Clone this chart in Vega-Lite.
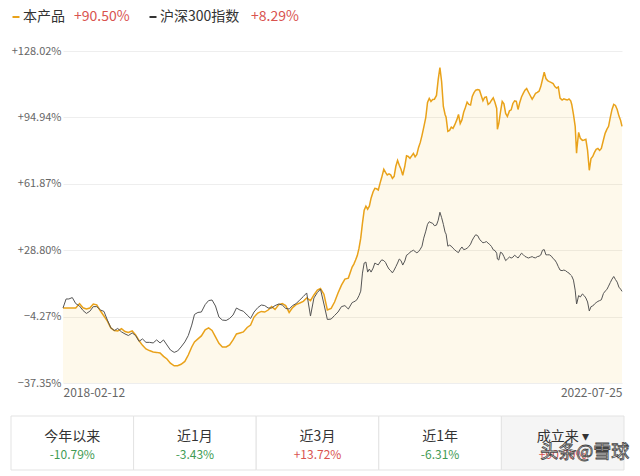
{
  "$schema": "https://vega.github.io/schema/vega-lite/v6.json",
  "padding": 0,
  "background": "#ffffff",
  "config": {"view": {"stroke": null}, "font": "Noto Sans CJK SC"},
  "datasets": {
    "legend": [
      {"name": "本产品", "ret": "+90.50%"},
      {"name": "沪深300指数", "ret": "+8.29%"}
    ],
    "tabs": [
      {"tab": "今年以来", "ret": "-10.79%"},
      {"tab": "近1月", "ret": "-3.43%"},
      {"tab": "近3月", "ret": "+13.72%"},
      {"tab": "近1年", "ret": "-6.31%"},
      {"tab": "成立来 ▾", "ret": "+90.50%"}
    ],
    "series": [
      {"date": "2018-02-12", "product": 0, "csi": 0},
      {"date": "2018-02-21", "product": 0, "csi": 4.5},
      {"date": "2018-03-01", "product": 0, "csi": 4.5},
      {"date": "2018-03-11", "product": 0, "csi": 5.2},
      {"date": "2018-03-21", "product": 0, "csi": 2.2},
      {"date": "2018-04-01", "product": 2.2, "csi": 1.0},
      {"date": "2018-04-11", "product": 0.1, "csi": -1.2},
      {"date": "2018-04-21", "product": -0.5, "csi": -2.7},
      {"date": "2018-05-01", "product": 0, "csi": -1.6},
      {"date": "2018-05-11", "product": 2.0, "csi": 0.7},
      {"date": "2018-05-21", "product": 1.6, "csi": 0.7},
      {"date": "2018-06-01", "product": -1.5, "csi": -1.0},
      {"date": "2018-06-11", "product": -4.0, "csi": -1.7},
      {"date": "2018-06-21", "product": -6.5, "csi": -6.0},
      {"date": "2018-07-01", "product": -9.9, "csi": -9.9},
      {"date": "2018-07-11", "product": -11.2, "csi": -11.2},
      {"date": "2018-07-21", "product": -11.4, "csi": -10.2},
      {"date": "2018-08-01", "product": -10.3, "csi": -11.9},
      {"date": "2018-08-11", "product": -11.7, "csi": -12.9},
      {"date": "2018-08-21", "product": -12.2, "csi": -13.7},
      {"date": "2018-09-01", "product": -11.4, "csi": -12.4},
      {"date": "2018-09-11", "product": -13.4, "csi": -13.7},
      {"date": "2018-09-21", "product": -16.3, "csi": -16.6},
      {"date": "2018-10-01", "product": -18.6, "csi": -15.4},
      {"date": "2018-10-11", "product": -20.4, "csi": -17.1},
      {"date": "2018-10-21", "product": -21.2, "csi": -17.1},
      {"date": "2018-11-01", "product": -21.9, "csi": -17.4},
      {"date": "2018-11-11", "product": -22.1, "csi": -15.9},
      {"date": "2018-11-21", "product": -22.4, "csi": -17.4},
      {"date": "2018-12-01", "product": -24.1, "csi": -15.9},
      {"date": "2018-12-11", "product": -25.4, "csi": -18.4},
      {"date": "2018-12-21", "product": -27.5, "csi": -20.9},
      {"date": "2019-01-01", "product": -28.8, "csi": -22.1},
      {"date": "2019-01-11", "product": -28.7, "csi": -21.4},
      {"date": "2019-01-21", "product": -28.0, "csi": -19.4},
      {"date": "2019-02-01", "product": -26.6, "csi": -16.9},
      {"date": "2019-02-11", "product": -23.4, "csi": -13.7},
      {"date": "2019-02-21", "product": -19.4, "csi": -8.5},
      {"date": "2019-03-01", "product": -16.9, "csi": -3.2},
      {"date": "2019-03-11", "product": -15.4, "csi": -2.2},
      {"date": "2019-03-21", "product": -13.9, "csi": -2.0},
      {"date": "2019-04-01", "product": -10.9, "csi": 1.7},
      {"date": "2019-04-11", "product": -9.9, "csi": 3.7},
      {"date": "2019-04-21", "product": -11.2, "csi": 4.0},
      {"date": "2019-05-01", "product": -14.4, "csi": 1.0},
      {"date": "2019-05-11", "product": -17.6, "csi": -4.5},
      {"date": "2019-05-21", "product": -19.4, "csi": -6.0},
      {"date": "2019-06-01", "product": -19.4, "csi": -6.2},
      {"date": "2019-06-11", "product": -18.4, "csi": -5.2},
      {"date": "2019-06-21", "product": -15.9, "csi": -3.5},
      {"date": "2019-07-01", "product": -12.9, "csi": 0},
      {"date": "2019-07-11", "product": -12.4, "csi": -1.0},
      {"date": "2019-07-21", "product": -11.9, "csi": -1.6},
      {"date": "2019-08-01", "product": -9.7, "csi": -3.5},
      {"date": "2019-08-11", "product": -8.5, "csi": -5.2},
      {"date": "2019-08-21", "product": -4.5, "csi": -2.0},
      {"date": "2019-09-01", "product": -2.5, "csi": 0.2},
      {"date": "2019-09-11", "product": -1.7, "csi": 1.5},
      {"date": "2019-09-21", "product": -2.0, "csi": 1.2},
      {"date": "2019-10-01", "product": -1.0, "csi": 0},
      {"date": "2019-10-11", "product": 0.7, "csi": 0},
      {"date": "2019-10-21", "product": -0.7, "csi": 1.2},
      {"date": "2019-11-01", "product": 1.7, "csi": 2.0},
      {"date": "2019-11-11", "product": 2.2, "csi": 1.5},
      {"date": "2019-11-21", "product": 1.2, "csi": -0.2},
      {"date": "2019-12-01", "product": -2.2, "csi": -0.5},
      {"date": "2019-12-11", "product": 0.2, "csi": 1.2},
      {"date": "2019-12-21", "product": 1.7, "csi": 2.2},
      {"date": "2020-01-01", "product": 2.5, "csi": 4.0},
      {"date": "2020-01-11", "product": 3.3, "csi": 5.7},
      {"date": "2020-01-21", "product": 5.0, "csi": 7.5},
      {"date": "2020-02-01", "product": 3.7, "csi": -4.0},
      {"date": "2020-02-11", "product": 6.5, "csi": 5.0},
      {"date": "2020-02-21", "product": 8.9, "csi": 7.7},
      {"date": "2020-03-01", "product": 9.7, "csi": 9.4},
      {"date": "2020-03-11", "product": 6.9, "csi": 2.0},
      {"date": "2020-03-21", "product": -1.0, "csi": -5.7},
      {"date": "2020-04-01", "product": -0.2, "csi": -5.5},
      {"date": "2020-04-11", "product": 3.0, "csi": -3.7},
      {"date": "2020-04-21", "product": 7.5, "csi": -2.0},
      {"date": "2020-05-01", "product": 11.4, "csi": 0.7},
      {"date": "2020-05-11", "product": 14.4, "csi": 1.2},
      {"date": "2020-05-21", "product": 14.9, "csi": -0.5},
      {"date": "2020-06-01", "product": 20.4, "csi": 2.7},
      {"date": "2020-06-06", "product": 21.9, "csi": 3.1},
      {"date": "2020-06-11", "product": 23.9, "csi": 3.5},
      {"date": "2020-06-16", "product": 26.1, "csi": 4.5},
      {"date": "2020-06-21", "product": 29.8, "csi": 6.2},
      {"date": "2020-06-26", "product": 34.8, "csi": 8.4},
      {"date": "2020-07-01", "product": 42.3, "csi": 17.4},
      {"date": "2020-07-06", "product": 48.7, "csi": 22.4},
      {"date": "2020-07-11", "product": 50.7, "csi": 22.9},
      {"date": "2020-07-16", "product": 49.2, "csi": 17.9},
      {"date": "2020-07-21", "product": 50.7, "csi": 19.4},
      {"date": "2020-07-26", "product": 54.7, "csi": 17.9},
      {"date": "2020-08-01", "product": 57.9, "csi": 19.9},
      {"date": "2020-08-06", "product": 59.6, "csi": 22.4},
      {"date": "2020-08-11", "product": 59.4, "csi": 21.9},
      {"date": "2020-08-16", "product": 58.8, "csi": 21.5},
      {"date": "2020-08-21", "product": 62.1, "csi": 22.9},
      {"date": "2020-08-26", "product": 65.1, "csi": 24.0},
      {"date": "2020-09-01", "product": 69.1, "csi": 23.6},
      {"date": "2020-09-06", "product": 67.6, "csi": 22.7},
      {"date": "2020-09-11", "product": 66.3, "csi": 20.9},
      {"date": "2020-09-16", "product": 66.8, "csi": 19.4},
      {"date": "2020-09-21", "product": 66.3, "csi": 18.6},
      {"date": "2020-09-26", "product": 64.6, "csi": 17.5},
      {"date": "2020-10-01", "product": 65.6, "csi": 18.9},
      {"date": "2020-10-06", "product": 70.6, "csi": 20.6},
      {"date": "2020-10-11", "product": 73.5, "csi": 22.4},
      {"date": "2020-10-16", "product": 71.1, "csi": 24.4},
      {"date": "2020-10-21", "product": 69.1, "csi": 23.6},
      {"date": "2020-10-26", "product": 66.1, "csi": 21.4},
      {"date": "2020-11-01", "product": 70.6, "csi": 23.4},
      {"date": "2020-11-06", "product": 75.8, "csi": 26.3},
      {"date": "2020-11-11", "product": 75.5, "csi": 26.8},
      {"date": "2020-11-16", "product": 74.6, "csi": 27.8},
      {"date": "2020-11-21", "product": 75.8, "csi": 28.3},
      {"date": "2020-11-26", "product": 77.0, "csi": 28.8},
      {"date": "2020-12-01", "product": 75.3, "csi": 28.1},
      {"date": "2020-12-06", "product": 76.5, "csi": 27.5},
      {"date": "2020-12-11", "product": 80.0, "csi": 28.1},
      {"date": "2020-12-16", "product": 82.5, "csi": 29.3},
      {"date": "2020-12-21", "product": 86.0, "csi": 30.8},
      {"date": "2020-12-26", "product": 90.0, "csi": 34.8},
      {"date": "2021-01-01", "product": 95.0, "csi": 38.3},
      {"date": "2021-01-06", "product": 102.4, "csi": 41.7},
      {"date": "2021-01-11", "product": 104.4, "csi": 43.0},
      {"date": "2021-01-16", "product": 102.9, "csi": 42.5},
      {"date": "2021-01-21", "product": 103.9, "csi": 42.2},
      {"date": "2021-01-26", "product": 104.0, "csi": 41.0},
      {"date": "2021-02-01", "product": 105.9, "csi": 41.3},
      {"date": "2021-02-06", "product": 113.8, "csi": 43.7},
      {"date": "2021-02-11", "product": 119.8, "csi": 47.7},
      {"date": "2021-02-16", "product": 112.7, "csi": 45.0},
      {"date": "2021-02-21", "product": 100.4, "csi": 41.7},
      {"date": "2021-02-26", "product": 96.4, "csi": 37.8},
      {"date": "2021-03-01", "product": 95.0, "csi": 36.8},
      {"date": "2021-03-06", "product": 88.0, "csi": 30.8},
      {"date": "2021-03-11", "product": 88.5, "csi": 31.3},
      {"date": "2021-03-16", "product": 90.1, "csi": 30.8},
      {"date": "2021-03-21", "product": 89.5, "csi": 29.8},
      {"date": "2021-03-26", "product": 91.2, "csi": 29.0},
      {"date": "2021-04-01", "product": 93.7, "csi": 28.1},
      {"date": "2021-04-06", "product": 96.4, "csi": 27.6},
      {"date": "2021-04-11", "product": 91.9, "csi": 29.3},
      {"date": "2021-04-16", "product": 93.7, "csi": 30.4},
      {"date": "2021-04-21", "product": 97.5, "csi": 29.1},
      {"date": "2021-04-26", "product": 99.9, "csi": 29.3},
      {"date": "2021-05-01", "product": 102.6, "csi": 29.8},
      {"date": "2021-05-06", "product": 101.4, "csi": 30.6},
      {"date": "2021-05-11", "product": 101.1, "csi": 31.8},
      {"date": "2021-05-16", "product": 105.4, "csi": 33.8},
      {"date": "2021-05-21", "product": 107.3, "csi": 35.3},
      {"date": "2021-05-26", "product": 108.5, "csi": 36.5},
      {"date": "2021-06-01", "product": 108.8, "csi": 36.0},
      {"date": "2021-06-06", "product": 108.5, "csi": 34.3},
      {"date": "2021-06-11", "product": 105.9, "csi": 33.3},
      {"date": "2021-06-16", "product": 103.2, "csi": 32.5},
      {"date": "2021-06-21", "product": 104.9, "csi": 32.7},
      {"date": "2021-06-26", "product": 105.1, "csi": 33.1},
      {"date": "2021-07-01", "product": 101.4, "csi": 32.3},
      {"date": "2021-07-06", "product": 102.1, "csi": 31.6},
      {"date": "2021-07-11", "product": 103.5, "csi": 30.6},
      {"date": "2021-07-16", "product": 104.7, "csi": 29.0},
      {"date": "2021-07-21", "product": 102.4, "csi": 28.6},
      {"date": "2021-07-26", "product": 99.4, "csi": 27.3},
      {"date": "2021-07-28", "product": 89.0, "csi": 24.4},
      {"date": "2021-08-01", "product": 91.9, "csi": 23.9},
      {"date": "2021-08-06", "product": 97.7, "csi": 27.8},
      {"date": "2021-08-11", "product": 102.9, "csi": 27.3},
      {"date": "2021-08-16", "product": 101.7, "csi": 25.6},
      {"date": "2021-08-21", "product": 96.9, "csi": 23.6},
      {"date": "2021-08-26", "product": 95.4, "csi": 24.4},
      {"date": "2021-09-01", "product": 98.2, "csi": 25.4},
      {"date": "2021-09-06", "product": 98.7, "csi": 24.9},
      {"date": "2021-09-11", "product": 101.9, "csi": 25.3},
      {"date": "2021-09-16", "product": 103.2, "csi": 26.3},
      {"date": "2021-09-21", "product": 102.9, "csi": 25.6},
      {"date": "2021-09-26", "product": 98.9, "csi": 24.9},
      {"date": "2021-10-01", "product": 102.4, "csi": 26.1},
      {"date": "2021-10-06", "product": 105.1, "csi": 27.3},
      {"date": "2021-10-11", "product": 106.9, "csi": 26.6},
      {"date": "2021-10-16", "product": 108.5, "csi": 25.7},
      {"date": "2021-10-21", "product": 109.3, "csi": 25.3},
      {"date": "2021-10-26", "product": 107.6, "csi": 24.9},
      {"date": "2021-11-01", "product": 105.6, "csi": 25.3},
      {"date": "2021-11-06", "product": 104.0, "csi": 25.6},
      {"date": "2021-11-11", "product": 105.4, "csi": 25.1},
      {"date": "2021-11-16", "product": 107.0, "csi": 25.0},
      {"date": "2021-11-21", "product": 107.4, "csi": 25.6},
      {"date": "2021-11-26", "product": 108.0, "csi": 25.8},
      {"date": "2021-12-01", "product": 110.3, "csi": 26.4},
      {"date": "2021-12-06", "product": 113.8, "csi": 28.8},
      {"date": "2021-12-11", "product": 117.5, "csi": 29.1},
      {"date": "2021-12-16", "product": 114.3, "csi": 26.5},
      {"date": "2021-12-21", "product": 113.3, "csi": 26.5},
      {"date": "2021-12-26", "product": 112.8, "csi": 26.5},
      {"date": "2022-01-01", "product": 112.3, "csi": 25.8},
      {"date": "2022-01-06", "product": 111.8, "csi": 24.6},
      {"date": "2022-01-11", "product": 110.3, "csi": 23.9},
      {"date": "2022-01-16", "product": 109.6, "csi": 22.5},
      {"date": "2022-01-21", "product": 110.1, "csi": 20.6},
      {"date": "2022-01-26", "product": 104.6, "csi": 18.9},
      {"date": "2022-02-01", "product": 103.6, "csi": 18.6},
      {"date": "2022-02-06", "product": 104.2, "csi": 18.9},
      {"date": "2022-02-11", "product": 103.9, "csi": 18.6},
      {"date": "2022-02-16", "product": 103.6, "csi": 17.9},
      {"date": "2022-02-21", "product": 104.1, "csi": 17.4},
      {"date": "2022-02-26", "product": 103.2, "csi": 16.4},
      {"date": "2022-03-01", "product": 101.4, "csi": 15.9},
      {"date": "2022-03-06", "product": 96.4, "csi": 13.9},
      {"date": "2022-03-11", "product": 90.5, "csi": 8.9},
      {"date": "2022-03-15", "product": 77.1, "csi": 2.0},
      {"date": "2022-03-16", "product": 79.5, "csi": 2.5},
      {"date": "2022-03-21", "product": 87.5, "csi": 6.2},
      {"date": "2022-03-26", "product": 84.5, "csi": 5.5},
      {"date": "2022-04-01", "product": 83.5, "csi": 7.0},
      {"date": "2022-04-06", "product": 83.7, "csi": 6.2},
      {"date": "2022-04-11", "product": 84.0, "csi": 5.0},
      {"date": "2022-04-16", "product": 78.5, "csi": 3.0},
      {"date": "2022-04-21", "product": 68.6, "csi": -1.5},
      {"date": "2022-04-26", "product": 74.5, "csi": 0.7},
      {"date": "2022-05-01", "product": 75.5, "csi": 1.0},
      {"date": "2022-05-06", "product": 77.5, "csi": 2.0},
      {"date": "2022-05-11", "product": 79.0, "csi": 2.7},
      {"date": "2022-05-16", "product": 79.5, "csi": 3.3},
      {"date": "2022-05-21", "product": 78.5, "csi": 3.7},
      {"date": "2022-05-26", "product": 79.5, "csi": 4.1},
      {"date": "2022-06-01", "product": 83.7, "csi": 7.2},
      {"date": "2022-06-06", "product": 87.0, "csi": 8.4},
      {"date": "2022-06-11", "product": 89.0, "csi": 9.2},
      {"date": "2022-06-16", "product": 90.5, "csi": 10.9},
      {"date": "2022-06-21", "product": 95.0, "csi": 12.7},
      {"date": "2022-06-26", "product": 98.9, "csi": 14.4},
      {"date": "2022-07-01", "product": 101.4, "csi": 15.7},
      {"date": "2022-07-06", "product": 100.9, "csi": 14.2},
      {"date": "2022-07-11", "product": 98.9, "csi": 12.9},
      {"date": "2022-07-16", "product": 95.7, "csi": 10.4},
      {"date": "2022-07-21", "product": 93.4, "csi": 9.4},
      {"date": "2022-07-25", "product": 90.5, "csi": 8.29}
    ]
  },
  "columns": 1,
  "align": "none",
  "spacing": 11,
  "concat": [
    {
      "data": {"name": "legend"},
      "width": 137,
      "height": 34,
      "encoding": {
        "x": {"field": "name", "type": "nominal", "sort": null, "scale": {"type": "point", "padding": 0}, "axis": null}
      },
      "layer": [
        {
          "mark": {"type": "tick", "orient": "horizontal", "size": 7, "thickness": 2, "xOffset": -47, "opacity": 1},
          "encoding": {
            "color": {"field": "name", "type": "nominal", "scale": {"domain": ["本产品", "沪深300指数"], "range": ["#e9a21a", "#333333"]}, "legend": null}
          }
        },
        {
          "mark": {"type": "text", "align": "left", "baseline": "middle", "dx": -40, "fontSize": 14, "color": "#333333"},
          "encoding": {"text": {"field": "name"}}
        },
        {
          "transform": [{"filter": "datum.name == '本产品'"}],
          "mark": {"type": "text", "align": "left", "baseline": "middle", "dx": 11, "fontSize": 14, "color": "#d9534f"},
          "encoding": {"text": {"field": "ret"}}
        },
        {
          "transform": [{"filter": "datum.name == '沪深300指数'"}],
          "mark": {"type": "text", "align": "left", "baseline": "middle", "dx": 51, "fontSize": 14, "color": "#d9534f"},
          "encoding": {"text": {"field": "ret"}}
        }
      ]
    },
    {
      "data": {"name": "series"},
      "width": 559,
      "height": 332,
      "encoding": {
        "x": {
          "field": "date",
          "type": "temporal",
          "scale": {"type": "utc", "domain": [{"year": 2018, "month": 2, "date": 12, "utc": true}, {"year": 2022, "month": 7, "date": 25, "utc": true}]},
          "axis": {
            "values": [{"year": 2018, "month": 2, "date": 12, "utc": true}, {"year": 2022, "month": 7, "date": 25, "utc": true}],
            "format": "%Y-%m-%d",
            "labelFlush": true,
            "grid": false,
            "ticks": false,
            "domain": false,
            "labelPadding": 4,
            "labelFontSize": 12,
            "labelColor": "#666666",
            "minExtent": 21,
            "maxExtent": 21,
            "title": null
          }
        }
      },
      "layer": [
        {
          "mark": {"type": "area", "color": "#f5c23c", "opacity": 0.1},
          "encoding": {
            "y": {
              "field": "product",
              "type": "quantitative",
              "scale": {"domain": [-37.35, 128.02], "nice": false, "zero": false},
              "axis": {
                "values": [-37.35, -4.27, 28.8, 61.87, 94.94, 128.02],
                "labelExpr": "(datum.value > 0 ? '+' : '') + format(datum.value, '.2f') + '%'",
                "grid": true,
                "gridColor": "#eeeeee",
                "ticks": false,
                "domain": false,
                "labelPadding": 2,
                "labelFontSize": 11,
                "labelColor": "#666666",
                "minExtent": 63,
                "maxExtent": 63,
                "title": null
              }
            },
            "y2": {"datum": -37.35}
          }
        },
        {
          "mark": {"type": "line", "color": "#e9a21a", "strokeWidth": 1.5},
          "encoding": {"y": {"field": "product", "type": "quantitative"}}
        },
        {
          "mark": {"type": "line", "color": "#555555", "strokeWidth": 1},
          "encoding": {"y": {"field": "csi", "type": "quantitative"}}
        }
      ]
    },
    {
      "data": {"name": "tabs"},
      "width": 613,
      "height": 54,
      "encoding": {
        "x": {"field": "tab", "type": "nominal", "sort": null, "scale": {"type": "band", "paddingInner": 0, "paddingOuter": 0}, "axis": null}
      },
      "layer": [
        {
          "mark": {"type": "rect", "stroke": "#e3e3e3", "strokeWidth": 1, "xOffset": -52, "x2Offset": -52},
          "encoding": {
            "fill": {"condition": {"test": "datum.tab == '成立来 ▾'", "value": "#f5f5f5"}, "value": "#ffffff"}
          }
        },
        {
          "mark": {"type": "text", "fontSize": 14, "dx": -52, "dy": -6.5, "color": "#333333"},
          "encoding": {"text": {"field": "tab"}}
        },
        {
          "mark": {"type": "text", "fontSize": 12, "dx": -52, "dy": 12},
          "encoding": {
            "text": {"field": "ret"},
            "color": {"condition": {"test": "indexof(datum.ret, '-') == 0", "value": "#3f9b54"}, "value": "#d9534f"}
          }
        },
        {
          "transform": [{"filter": "datum.tab == '成立来 ▾'"}],
          "mark": {"type": "text", "text": "头条@雪球", "fontSize": 18, "dx": -30, "dy": 10, "fill": "#ffffff", "stroke": "#444444", "strokeWidth": 0.8}
        }
      ]
    }
  ]
}
